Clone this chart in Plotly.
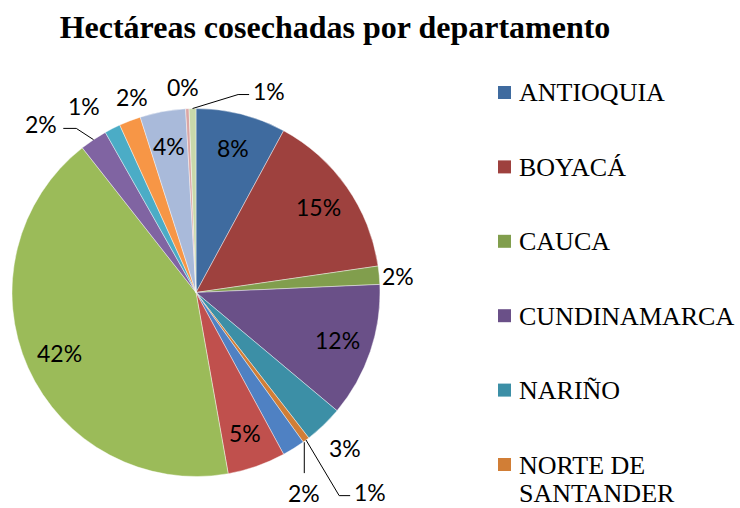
import math
import plotly.graph_objects as go

# ---- data ----
departamentos = [
    "ANTIOQUIA", "BOYACÁ", "CAUCA", "CUNDINAMARCA", "NARIÑO",
    "NORTE DE SANTANDER", "PUTUMAYO", "QUINDÍO", "RISARALDA", "SANTANDER",
    "SUCRE", "TOLIMA", "VALLE DEL CAUCA", "VAUPÉS", "VICHADA",
]
hectareas_pct = [7.9, 14.8, 1.6, 11.8, 3.4, 0.6, 2.0, 5.1, 42.2, 2.4, 1.4, 1.9, 4.0, 0.3, 0.6]
leyenda = ["ANTIOQUIA", "BOYACÁ", "CAUCA", "CUNDINAMARCA", "NARIÑO", "NORTE DE<br>SANTANDER"]
titulo = "Hectáreas cosechadas por departamento"

# ---- styles ----
colores = [
    "#3F6B9F", "#9E413E", "#819E4D", "#6A5088", "#3C8FA6", "#D17E36",
    "#4F81C3", "#C0504D", "#9BBB59", "#8064A2", "#4BACC6", "#F79646",
    "#A9BADA", "#DAA6A5", "#C8D8AA",
]
# label placement style per slice: "in" (inside) or "out" (outside), pixel nudges,
# and leader-line style (None / "left" / "right" / "top")
lab_pos = ["in", "in", "out", "in", "out", "out", "out", "in", "in", "out", "out", "out", "in", "out", "out"]
lab_nudge = [(0, 0), (0, 0), (-3, 3), (0, 0), (6, 7), (51, 34), (-1, 26), (0, 0), (0, 0),
             (-40, 3), (-18, -3), (10, -3), (0, 0), (-3, 0), (77, 4)]
lab_line = [None, None, None, None, None, "left", "top", None, None, "right", None, None, None, None, "left"]

W, H = 740, 508
dom_x = [12 / W, 380 / W]
dom_y = [1 - 477 / H, 1 - 108 / H]
LABEL_FONT = dict(family="Lato", size=23, color="black")

fig = go.Figure()
fig.add_trace(go.Pie(
    labels=departamentos,
    values=hectareas_pct,
    sort=False,
    direction="clockwise",
    rotation=0,
    marker=dict(colors=colores, line=dict(color="rgba(255,255,255,0.7)", width=0.6)),
    textinfo="none",
    domain=dict(x=dom_x, y=dom_y),
    showlegend=False,
    hoverinfo="label+percent",
))

# pie geometry (pixels), derived from the domain
cx = (dom_x[0] + dom_x[1]) / 2 * W
cy = (1 - (dom_y[0] + dom_y[1]) / 2) * H
R = min((dom_x[1] - dom_x[0]) * W, (dom_y[1] - dom_y[0]) * H) / 2


def px(x, y):
    return x / W, 1 - y / H


total = sum(hectareas_pct)
cum = 0.0
for i, v in enumerate(hectareas_pct):
    mid = (cum + v / 2) / total * 2 * math.pi
    cum += v
    s, c = math.sin(mid), math.cos(mid)
    txt = f"{round(v / total * 100):d}%"
    if lab_pos[i] == "in":
        lx, ly = cx + 0.81 * R * s, cy - 0.81 * R * c
    else:
        lx, ly = cx + (R + 22) * s + lab_nudge[i][0], cy - (R + 22) * c + lab_nudge[i][1]
    x, y = px(lx, ly)
    fig.add_annotation(xref="paper", yref="paper", x=x, y=y, xanchor="center", yanchor="middle",
                       showarrow=False, text=txt, font=LABEL_FONT)
    st = lab_line[i]
    if st:
        ex, ey = cx + R * s, cy - R * c
        if st == "left":
            x2, y2 = lx - 20, ly + 4
            pts = [(ex, ey), (x2 - 11, y2), (x2, y2)]
        elif st == "right":
            x2, y2 = lx + 22, ly + 4
            pts = [(ex, ey), (x2 + 13, y2), (x2, y2)]
        else:  # top
            sx = lx
            sy = cy + math.sqrt(max(R * R - (sx - cx) ** 2, 0))
            pts = [(sx, sy + 1), (sx, ly - 20)]
        path = "M " + " L ".join(f"{px(a, b)[0]:.5f},{px(a, b)[1]:.5f}" for a, b in pts)
        fig.add_shape(type="path", xref="paper", yref="paper", path=path,
                      line=dict(color="black", width=1))

# legend drawn manually (only first six entries visible, as in the reference)
y0, dy = 92.5, 74.4
for i, (lab, col) in enumerate(zip(leyenda, colores)):
    yc = y0 + i * dy
    fig.add_shape(type="rect", xref="paper", yref="paper",
                  x0=498 / W, x1=511 / W, y0=1 - (yc + 6.5) / H, y1=1 - (yc - 6.5) / H,
                  fillcolor=col, line=dict(width=0))
    for j, line_txt in enumerate(lab.split("<br>")):
        fig.add_annotation(xref="paper", yref="paper", x=517 / W, y=1 - (yc - 16 + j * 28) / H,
                           xanchor="left", yanchor="top", align="left", showarrow=False,
                           text=line_txt, font=dict(family="Liberation Serif", size=26, color="black"))

fig.update_layout(
    width=W, height=H,
    margin=dict(l=0, r=0, t=0, b=0),
    paper_bgcolor="white",
    plot_bgcolor="white",
    title=dict(text="<b>" + titulo + "</b>", x=335 / W, xanchor="center",
               y=1 - 27 / H, yanchor="middle",
               font=dict(family="Liberation Serif", size=32, color="black")),
)

fig.write_html("out.html", config={"displayModeBar": False},
               post_script="document.body.style.margin='0';")
